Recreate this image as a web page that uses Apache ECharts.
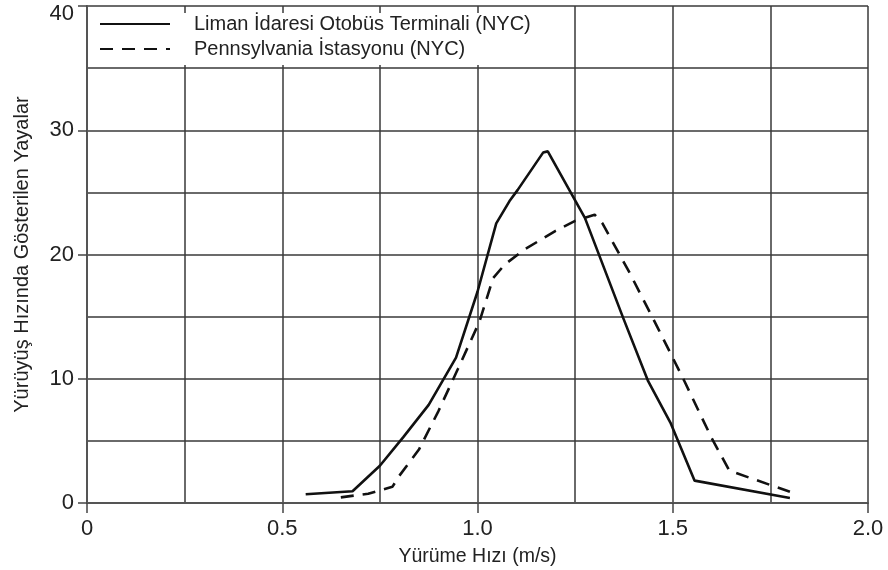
<!DOCTYPE html>
<html>
<head>
<meta charset="utf-8">
<script src="https://cdn.jsdelivr.net/npm/echarts@6/dist/echarts.min.js"></script>
<style>
html,body{margin:0;padding:0;background:#fff;}
#chart{width:888px;height:570px;}
</style>
</head>
<body>
<div id="chart"></div>
<script>
// Data
const seriesNames = ['Liman İdaresi Otobüs Terminali (NYC)', 'Pennsylvania İstasyonu (NYC)'];
const speedsPA = [0.56, 0.68, 0.75, 0.81, 0.875, 0.945, 1.0, 1.048, 1.082, 1.103, 1.168, 1.18, 1.275, 1.373, 1.437, 1.495, 1.556, 1.80];
const countsPA = [0.7, 0.95, 3.0, 5.3, 7.9, 11.7, 17.0, 22.5, 24.3, 25.2, 28.2, 28.3, 22.95, 14.9, 9.8, 6.4, 1.8, 0.4];
const speedsPenn = [0.65, 0.72, 0.782, 0.80, 0.85, 0.90, 0.95, 1.005, 1.04, 1.07, 1.12, 1.20, 1.25, 1.30, 1.32, 1.39, 1.46, 1.53, 1.60, 1.645, 1.80];
const countsPenn = [0.45, 0.75, 1.3, 2.2, 4.3, 7.4, 10.8, 14.6, 18.1, 19.2, 20.4, 21.9, 22.7, 23.2, 22.5, 18.5, 14.2, 9.8, 5.2, 2.6, 0.9];
const xAxisTitle = 'Yürüme Hızı (m/s)';
const yAxisTitle = 'Yürüyüş Hızında Gösterilen Yayalar';

const zip = (xs, ys) => xs.map((x, i) => [x, ys[i]]);
const FONT = "'Liberation Sans', Arial, sans-serif";
const gridColor = '#3a3a3a';

const chart = echarts.init(document.getElementById('chart'), null, {renderer: 'canvas'});
chart.setOption({
  animation: false,
  backgroundColor: '#fff',
  grid: {left: 87, right: 20, top: 6, bottom: 67, containLabel: false, outerBoundsMode: 'none'},
  legend: {
    left: 88, top: 13, orient: 'vertical',
    backgroundColor: '#fff',
    padding: [1, 40, 6, 11],
    itemWidth: 70, itemHeight: 14, itemGap: 5,
    itemStyle: {opacity: 0},
    textStyle: {fontFamily: FONT, fontSize: 20, color: '#222', lineHeight: 18, padding: [0, 0, 0, 19]},
    data: seriesNames
  },
  xAxis: {
    type: 'value', min: 0, max: 2, interval: 0.5,
    name: xAxisTitle, nameLocation: 'middle', nameGap: 44,
    nameTextStyle: {fontFamily: FONT, fontSize: 19.5, color: '#222'},
    axisLine: {show: true, onZero: false, lineStyle: {color: '#555', width: 2}},
    axisTick: {show: true, length: 10, lineStyle: {color: '#444', width: 1.5}},
    minorTick: {show: false, splitNumber: 2},
    axisLabel: {fontFamily: FONT, fontSize: 22, color: '#222', margin: 15,
      formatter: v => v === 0 ? '0' : v.toFixed(1)},
    splitLine: {show: true, lineStyle: {color: gridColor, width: 1.5}},
    minorSplitLine: {show: true, lineStyle: {color: gridColor, width: 1.5}}
  },
  yAxis: {
    type: 'value', min: 0, max: 40, interval: 10,
    name: yAxisTitle, nameLocation: 'middle', nameGap: 55,
    nameTextStyle: {fontFamily: FONT, fontSize: 20, color: '#222'},
    axisLine: {show: true, onZero: false, lineStyle: {color: '#555', width: 2}},
    axisTick: {show: true, length: 9, lineStyle: {color: '#444', width: 1.5}},
    minorTick: {show: false, splitNumber: 2},
    axisLabel: {fontFamily: FONT, fontSize: 22, color: '#222', margin: 13,
      formatter: v => v === 40 ? '{top|40}' : String(v),
      rich: {top: {fontFamily: FONT, fontSize: 22, color: '#222', padding: [16, 0, 0, 0]}}},
    splitLine: {show: true, lineStyle: {color: gridColor, width: 1.5}},
    minorSplitLine: {show: true, lineStyle: {color: gridColor, width: 1.5}}
  },
  series: [
    {
      name: seriesNames[0], type: 'line', data: zip(speedsPA, countsPA),
      symbol: 'none', color: '#111',
      lineStyle: {color: '#111', width: 2.6, type: 'solid'}, z: 5
    },
    {
      name: seriesNames[1], type: 'line', data: zip(speedsPenn, countsPenn),
      symbol: 'none', color: '#111',
      lineStyle: {color: '#111', width: 2.6, type: [13, 9]}, z: 5
    }
  ]
});
</script>
</body>
</html>
